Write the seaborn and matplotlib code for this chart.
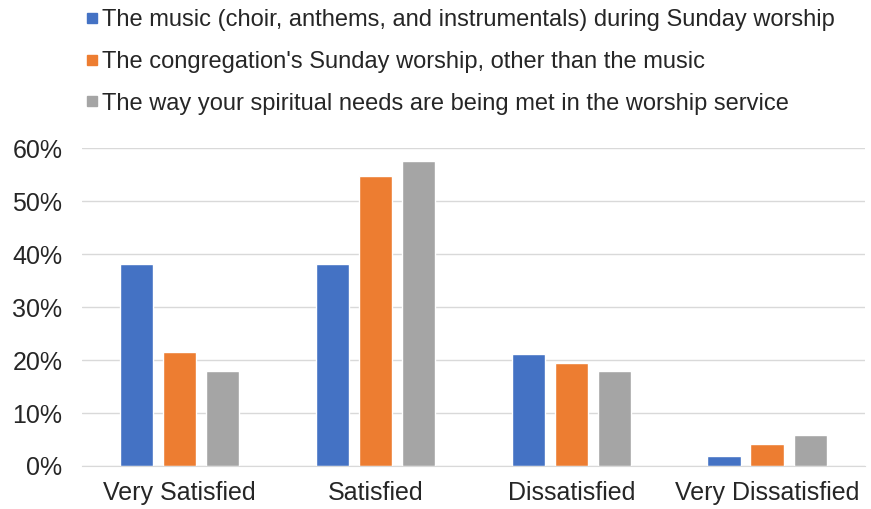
import seaborn as sns
import matplotlib.pyplot as plt
import pandas as pd
from matplotlib.lines import Line2D
from matplotlib.ticker import PercentFormatter

categories = ['Very Satisfied', 'Satisfied', 'Dissatisfied', 'Very Dissatisfied']
series = ['The music (choir, anthems, and instrumentals) during Sunday worship',
          "The congregation's Sunday worship, other than the music",
          'The way your spiritual needs are being met in the worship service']
music = [38.2, 38.2, 21.2, 1.9]
worship = [21.6, 54.7, 19.4, 4.1]
spiritual = [18.0, 57.6, 18.0, 5.8]
colors = ['#4472C4', '#ED7D31', '#A5A5A5']

rows = []
for s, vals in zip(series, [music, worship, spiritual]):
    for c, v in zip(categories, vals):
        rows.append({'cat': c, 'series': s, 'val': v})
df = pd.DataFrame(rows)

sns.set_style('white')
plt.rcParams['font.family'] = ['Liberation Sans', 'DejaVu Sans']

fig = plt.figure(figsize=(8.71, 5.09), dpi=100)
ax = fig.add_axes([0.094, 0.0845, 0.899, 0.6245])

sns.barplot(data=df, x='cat', y='val', hue='series', palette=colors,
            width=0.66, gap=0.23, ax=ax, legend=False, saturation=1)

ax.set_ylim(0, 60)
ax.set_yticks(range(0, 61, 10))
ax.yaxis.set_major_formatter(PercentFormatter(decimals=0))
ax.grid(axis='y', color='#d9d9d9', linewidth=1)
ax.set_axisbelow(True)
for side in ['top', 'right', 'left']:
    ax.spines[side].set_visible(False)
ax.spines['bottom'].set_color('#d9d9d9')
ax.tick_params(axis='both', length=0, labelsize=18, colors='#262626')
ax.tick_params(axis='x', pad=11)
ax.tick_params(axis='y', pad=14)
ax.set_xlabel('')
ax.set_ylabel('')

handles = [Line2D([], [], marker='s', linestyle='', color=c, markersize=7) for c in colors]
fig.legend(handles, series, loc='upper left', bbox_to_anchor=(0.075, 1.024),
           frameon=False, fontsize=17, handlelength=0.5, handletextpad=0.15,
           labelspacing=0.84, labelcolor='#262626')

fig.savefig('out.png', dpi=100)
